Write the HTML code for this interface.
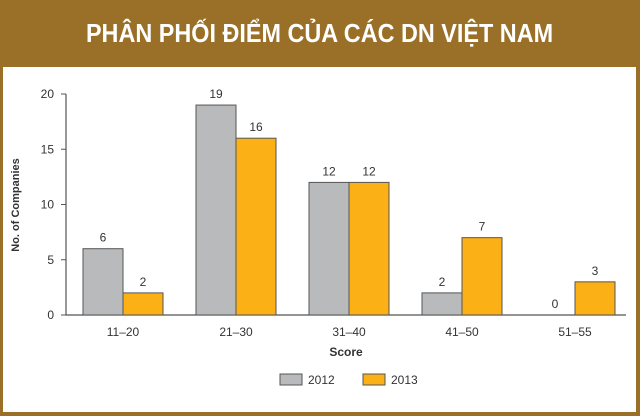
<!DOCTYPE html>
<html><head><meta charset="utf-8"><style>
body{margin:0;width:640px;height:416px;overflow:hidden;background:#9a7028;font-family:"Liberation Sans",sans-serif}
#hdr{position:absolute;left:0;top:0;width:640px;height:67px;display:flex;align-items:center;justify-content:center;color:#fff;font-weight:bold;font-size:26px}
#hdr span{display:inline-block;transform:scaleX(0.9)}
#panel{position:absolute;left:3px;top:67px;width:633px;height:345px;background:#fff}
svg{position:absolute;left:0;top:0}
</style></head><body>
<div id="hdr"><span>PHÂN PHỐI ĐIỂM CỦA CÁC DN VIỆT NAM</span></div>
<div id="panel"></div>
<svg id="chart" width="640" height="416"></svg>
<script>
const categories=["11–20","21–30","31–40","41–50","51–55"];
const series2012=[6,19,12,2,0];
const series2013=[2,16,12,7,3];
const yTicks=[0,5,10,15,20];
const seriesNames=["2012","2013"];
const NS="http://www.w3.org/2000/svg";
const svg=document.getElementById('chart');
const x0=66.5,band=113,bw=40,yBase=315,yTop=94,yMax=20;
const y=v=>yBase-(v/yMax)*(yBase-yTop);
const xc=i=>x0+band*(i+0.5);
function mk(t,a,txt){const e=document.createElementNS(NS,t);for(const k in a)e.setAttribute(k,a[k]);if(txt!==undefined)e.textContent=txt;svg.appendChild(e);return e;}
let e;
e=mk('line',{x1:66,y1:y(yMax),x2:66,y2:yBase,stroke:'#555','stroke-width':1.2});


e=mk('line',{x1:66,y1:yBase,x2:626,y2:yBase,stroke:'#555','stroke-width':1.2});


yTicks.forEach(v=>{
 e=mk('line',{x1:61,y1:y(v),x2:66,y2:y(v),stroke:'#555','stroke-width':1});
 
 
 e=mk('text',{x:54,y:y(v)+4,'text-anchor':'end','font-size':12,fill:'#333'},v);
 
 
});
const colors=['#b9babc','#fbb016'];
categories.forEach((c,i)=>{
 [series2012[i],series2013[i]].forEach((v,s)=>{
  const bx=xc(i)-bw+s*bw;
  if(v>0){
   e=mk('rect',{x:bx,y:y(v),width:bw,height:yBase-y(v),fill:colors[s],stroke:'#555','stroke-width':1});
   
   
  }
  e=mk('text',{x:bx+bw/2,y:y(v)-7,'text-anchor':'middle','font-size':12,fill:'#333'},v);
  
  
 });
 e=mk('text',{x:xc(i),y:336,'text-anchor':'middle','font-size':12,fill:'#333'},c);
 
 
});
e=mk('text',{x:346,y:356,'text-anchor':'middle','font-size':12,'font-weight':'bold',fill:'#333'},'Score');


e=mk('text',{x:0,y:0,'text-anchor':'middle','font-size':11,'font-weight':'bold',fill:'#333',transform:'translate(19,205) rotate(-90)'},'No. of Companies');


[[280,308],[363,391]].forEach((p,s)=>{
 e=mk('rect',{x:p[0],y:374,width:22,height:11,fill:colors[s],stroke:'#555','stroke-width':1});
 
 
 e=mk('text',{x:p[1],y:384,'font-size':12,fill:'#333'},seriesNames[s]);
 
 
});
</script>
</body></html>
